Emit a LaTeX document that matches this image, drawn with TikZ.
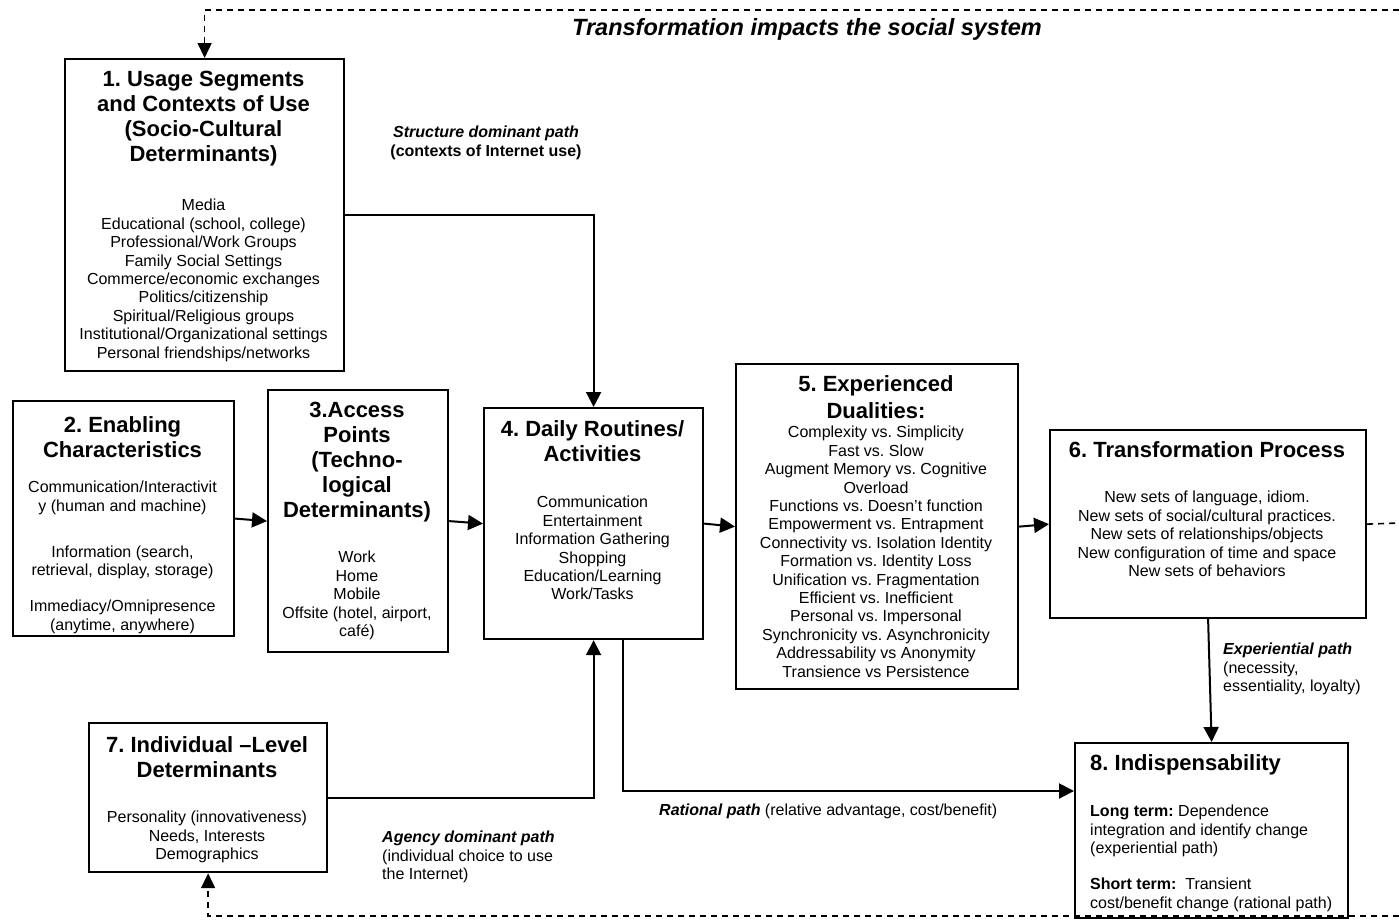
\documentclass[tikz,border=0pt]{standalone}
\usepackage{fontspec}
\setmainfont{Liberation Sans}
\usetikzlibrary{arrows.meta}
\frenchspacing
\begin{document}
\begin{tikzpicture}[x=1pt,y=-1pt,
  box/.style={draw=black, line width=2.2pt, inner sep=0pt, anchor=north west},
  ttl/.style={font=\bfseries\fontsize{22}{25}\selectfont, align=center, inner sep=0pt, anchor=north},
  bdy/.style={font=\fontsize{16}{18.4}\selectfont, align=center, inner sep=0pt, anchor=north},
  lbl/.style={font=\fontsize{16}{18.4}\selectfont, inner sep=0pt},
  conn/.style={line width=2pt, -{Triangle[length=15pt,width=15pt]}},
  dsh/.style={line width=1.6pt, dash pattern=on 6pt off 5pt},
  dsharr/.style={dsh, -{Triangle[length=15pt,width=14pt]}}
]
\frenchspacing
\useasboundingbox (0,0) rectangle (1399,919);

% boxes
\node[box, minimum width=279pt, minimum height=312pt] (b1) at (64,58) {};
\node[box, minimum width=221pt, minimum height=235pt] (b2) at (12,400) {};
\node[box, minimum width=180pt, minimum height=262pt] (b3) at (267,389) {};
\node[box, minimum width=219pt, minimum height=231pt] (b4) at (483,407) {};
\node[box, minimum width=282pt, minimum height=325pt] (b5) at (735,363) {};
\node[box, minimum width=316pt, minimum height=188pt] (b6) at (1049,429) {};
\node[box, minimum width=238pt, minimum height=149pt] (b7) at (88,722) {};
\node[box, minimum width=273pt, minimum height=175pt] (b8) at (1074,742) {};

% box texts
\node[ttl] (t1) at (203.5,71) {1. Usage Segments\\and Contexts of Use\\(Socio-Cultural\\Determinants)};
\node[bdy] (d1) at (203.5,199) {Media\\Educational (school, college)\\Professional/Work Groups\\Family Social Settings\\Commerce/economic exchanges\\Politics/citizenship\\Spiritual/Religious groups\\Institutional/Organizational settings\\Personal friendships/networks};

\node[ttl] (t2) at (122.5,416) {2. Enabling\\Characteristics};
\node[bdy] (d2) at (122.5,481) {Communication/Interactivit\\y (human and machine)\\[27.6pt]Information (search,\\retrieval, display, storage)\\[17.6pt]Immediacy/Omnipresence\\(anytime, anywhere)};

\node[ttl] (t3) at (357,402) {3.Access\\Points\\(Techno-\\logical\\Determinants)};
\node[bdy] (d3) at (357,551) {Work\\Home\\Mobile\\Offsite (hotel, airport,\\café)};

\node[ttl] (t4) at (592.5,420) {4. Daily Routines/\\Activities};
\node[bdy] (d4) at (592.5,496) {Communication\\Entertainment\\Information Gathering\\Shopping\\Education/Learning\\Work/Tasks};

\node[ttl, font=\bfseries\fontsize{22}{27}\selectfont] (t5) at (876,375) {5. Experienced\\Dualities:};
\node[bdy] (d5) at (876,426) {Complexity vs. Simplicity\\Fast vs. Slow\\Augment Memory vs. Cognitive\\Overload\\Functions vs. Doesn’t function\\Empowerment vs. Entrapment\\Connectivity vs. Isolation Identity\\Formation vs. Identity Loss\\Unification vs. Fragmentation\\Efficient vs. Inefficient\\Personal vs. Impersonal\\Synchronicity vs. Asynchronicity\\Addressability vs Anonymity\\Transience vs Persistence};

\node[ttl] (t6) at (1207,441) {6. Transformation Process};
\node[bdy] (d6) at (1207,491) {New sets of language, idiom.\\New sets of social/cultural practices.\\New sets of relationships/objects\\New configuration of time and space\\New sets of behaviors};

\node[ttl] (t7) at (207,736) {7. Individual –Level\\Determinants};
\node[bdy] (d7) at (207,811) {Personality (innovativeness)\\Needs, Interests\\Demographics};

\node[ttl, anchor=north west, align=left] (t8) at (1090,754) {8. Indispensability};
\node[bdy, anchor=north west, align=left] (d8) at (1090,805) {\textbf{Long term:} Dependence\\integration and identify change\\(experiential path)\\[17.6pt]\textbf{Short term:}\ \ Transient\\cost/benefit change (rational path)};

% labels
\node[lbl, font=\bfseries\itshape\fontsize{23.5}{26}\selectfont] (lt) at (807,29) {Transformation impacts the social system};
\node[lbl, align=center, anchor=north] (ls) at (486,126) {\textbf{\textit{Structure dominant path}}\\\textbf{(contexts of Internet use)}};
\node[lbl, align=left, anchor=north west] (le) at (1223,643) {\textbf{\textit{Experiential path}}\\(necessity,\\essentiality, loyalty)};
\node[lbl, anchor=north west] (lr) at (659,804) {\textbf{\textit{Rational path}} (relative advantage, cost/benefit)};
\node[lbl, align=left, anchor=north west] (la) at (382,831) {\textbf{\textit{Agency dominant path}}\\(individual choice to use\\the Internet)};

% connectors
\draw[conn] (b1.east) -| (b4.north);
\draw[conn] (b2.east) -- (b3.west);
\draw[conn] (b3.east) -- (b4.west);
\draw[conn] (b4.east) -- (b5.west);
\draw[conn] (b5.east) -- (b6.west);
\draw[conn] (b6.south) -- (b8.north);
\draw[conn] (b7.east) -| (b4.south);
\coordinate (r1) at (623,791);
\draw[conn] (b4.south -| r1) |- (b8.west |- r1);

% dashed feedback
\coordinate (tr) at (1399,10);
\coordinate (br) at (1399,916);
\coordinate (rr) at (1399,523);
\draw[dsharr] (tr) -| (b1.north);
\draw[dsharr] (br) -| (b7.south);
\draw[dsh] (b6.east) -- (rr);
\end{tikzpicture}
\end{document}
